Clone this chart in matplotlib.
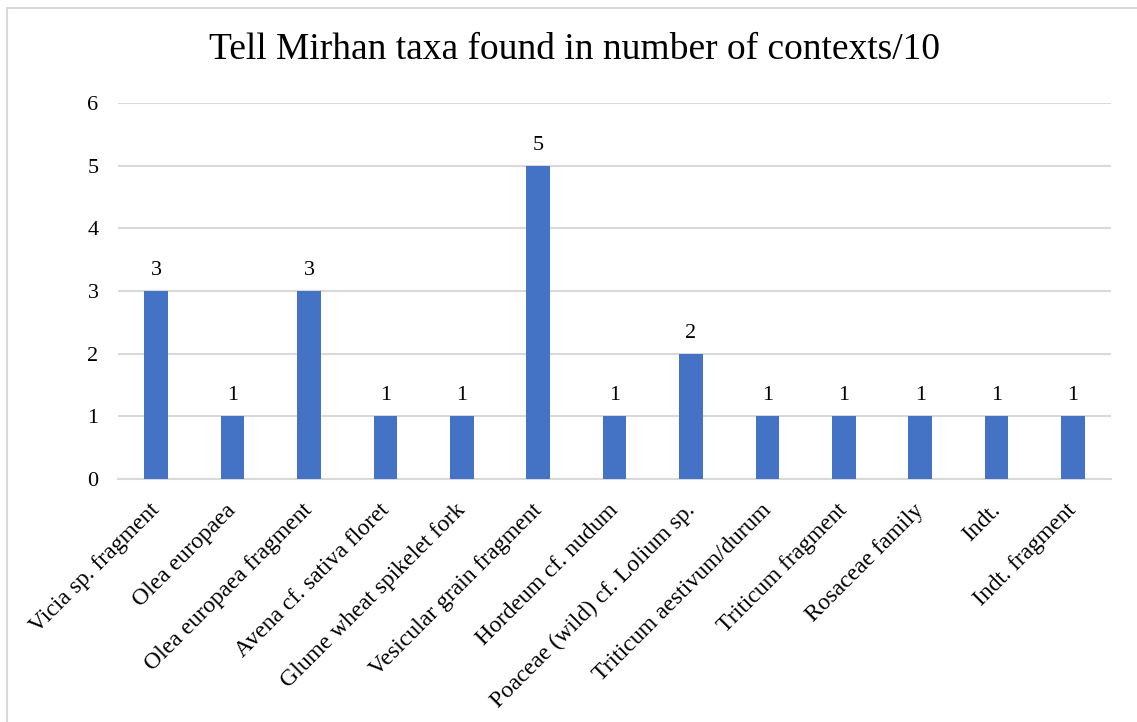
import matplotlib
matplotlib.use('Agg')
import matplotlib.pyplot as plt
import matplotlib.transforms as mtransforms
from matplotlib.patches import Rectangle

# taxa and the number of contexts (out of 10) they were found in
taxa = ['Vicia sp. fragment', 'Olea europaea', 'Olea europaea fragment',
        'Avena cf. sativa floret', 'Glume wheat spikelet fork',
        'Vesicular grain fragment', 'Hordeum cf. nudum',
        'Poaceae (wild) cf. Lolium sp.', 'Triticum aestivum/durum',
        'Triticum fragment', 'Rosaceae family', 'Indt.', 'Indt. fragment']
n_contexts = [3, 1, 3, 1, 1, 5, 1, 2, 1, 1, 1, 1, 1]
y_ticks = [0, 1, 2, 3, 4, 5, 6]

plt.rcParams['font.family'] = ['Liberation Serif', 'DejaVu Serif']

fig = plt.figure(figsize=(11.37, 7.22), dpi=100)
ax = fig.add_axes([0.1038, 0.3366, 0.8735, 0.5207])

x = range(len(taxa))
bars = ax.bar(x, n_contexts, width=0.31, color='#4472C4', zorder=3)
ax.bar_label(bars, labels=[str(v) for v in n_contexts], padding=8,
             fontsize=16, color='#000000')

ax.set_xlim(-0.5, len(taxa) - 0.5)
ax.set_ylim(0, 6)
ax.set_yticks(y_ticks)
ax.set_yticklabels([str(t) for t in y_ticks], fontsize=16)
ax.yaxis.grid(True, color='#d9d9d9', lw=1.5, zorder=0)
ax.tick_params(axis='y', length=0, pad=14)
ax.tick_params(axis='x', length=0, pad=15)
ax.set_xticks(list(x))
ax.set_xticklabels(taxa, fontsize=17, rotation=45, ha='right', va='top',
                   rotation_mode='anchor')
# nudge the slanted labels a little to the left
shift = mtransforms.ScaledTranslation(-0.07, 0, fig.dpi_scale_trans)
for lbl in ax.get_xticklabels():
    lbl.set_transform(lbl.get_transform() + shift)
for side in ['top', 'right', 'left']:
    ax.spines[side].set_visible(False)
ax.spines['bottom'].set_color('#d9d9d9')
ax.spines['bottom'].set_linewidth(1.5)

fig.text(0.505, 0.931, 'Tell Mirhan taxa found in number of contexts/10',
         ha='center', va='center', fontsize=27)

# light frame around the chart area
fig.patches.append(Rectangle((7 / 1137, -0.05), 1.1, 1.05 - 8 / 722,
                             transform=fig.transFigure, fill=False,
                             edgecolor='#d9d9d9', lw=1.5))

plt.savefig('out.png', dpi=100)
